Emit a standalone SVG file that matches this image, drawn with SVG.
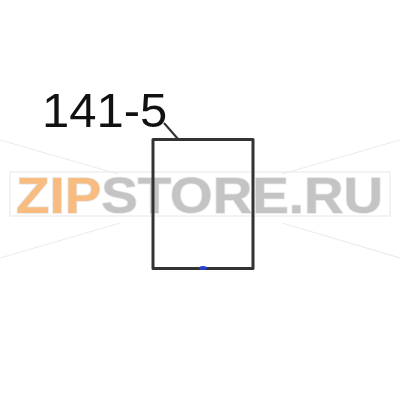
<svg xmlns="http://www.w3.org/2000/svg" width="400" height="400" viewBox="0 0 400 400">
<style>
.wm{font-family:"Liberation Sans",Arial,sans-serif;font-weight:bold;font-size:50px;stroke:#e6e6e6;stroke-width:1.5;paint-order:stroke}
.faint{stroke:#ececec;stroke-width:1.2;fill:none}
.part{fill:none;stroke:#333;stroke-width:3;stroke-linejoin:round}
.lbl{font-family:"Liberation Sans",Arial,sans-serif;font-size:49px;fill:#111}
</style>
<rect width="400" height="400" fill="#fff"/>
<g id="watermark">
<path class="faint" d="M0 140 L118 174 M0 258 L120 223 M400 140 L282 174 M400 258 L282 223"/>
<rect class="faint" x="10" y="172" width="380" height="44"/>
<text class="wm" x="16" y="213" textLength="367" lengthAdjust="spacingAndGlyphs"><tspan fill="#f8bb80">ZIP</tspan><tspan fill="#c4c4c4">STORE.RU</tspan></text>
</g>
<g id="connectors">
<line x1="164" y1="123" x2="178" y2="139" stroke="#333" stroke-width="2"/>
</g>
<g id="part-141-5">
<rect class="part" x="153" y="139.5" width="100" height="129"/>
<ellipse cx="203" cy="268" rx="4" ry="2" fill="#2a3fd0"/>
</g>
<g id="label">
<text class="lbl" x="42" y="127">141-5</text>
</g>
</svg>
